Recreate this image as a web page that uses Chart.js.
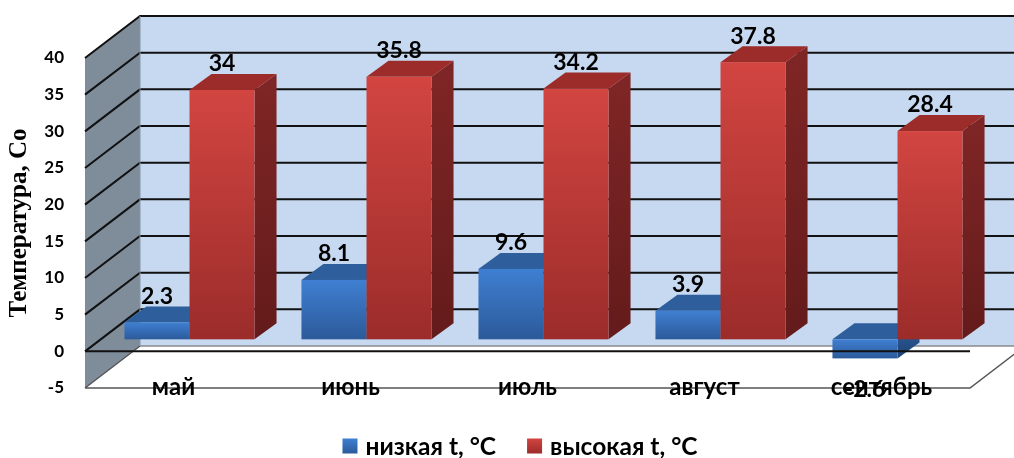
<!DOCTYPE html>
<html>
<head>
<meta charset="utf-8">
<script src="https://cdn.jsdelivr.net/npm/chart.js@4.4.0/dist/chart.umd.min.js"></script>
<style>
  html, body { margin: 0; padding: 0; background: #ffffff; }
  #wrap { width: 1014px; height: 458px; position: relative; }
</style>
</head>
<body>
<div id="wrap"><canvas id="c"></canvas></div>
<script>
// ---- data ----
const categories = ['май', 'июнь', 'июль', 'август', 'сентябрь'];
const lowTemps = [2.3, 8.1, 9.6, 3.9, -2.6];
const highTemps = [34, 35.8, 34.2, 37.8, 28.4];
const seriesNames = ['низкая t, °C', 'высокая t, °C'];
const axisMin = -5;
const axisMax = 40;
const axisStep = 5;
const axisTitle = 'Температура, Со';

// ---- 3D geometry (pixels) ----
const WALL = { dx: 55, dy: -42 };      // depth of the walls / floor
const BAR_FRONT = { dx: 16, dy: -12 }; // where the column front faces sit
const BAR_DEPTH = { dx: 22, dy: -16 }; // thickness of each column
const FONT = 'Lato';

const faces = [
  { front: ['#3f7fd2', '#2c5a9a'], top: '#2f5e9c', side: ['#27528c', '#1f4374'] },
  { front: ['#d24541', '#9b2c2a'], top: '#9c2c2a', side: ['#7e2525', '#641b1b'] }
];

function drawBox(ctx, L, R, T, B, f) {
  L += BAR_FRONT.dx; R += BAR_FRONT.dx;
  T += BAR_FRONT.dy; B += BAR_FRONT.dy;
  const dx = BAR_DEPTH.dx, dy = BAR_DEPTH.dy;
  // side face
  let g = ctx.createLinearGradient(0, T, 0, B);
  g.addColorStop(0, f.side[0]); g.addColorStop(1, f.side[1]);
  ctx.fillStyle = g;
  ctx.beginPath();
  ctx.moveTo(R, T); ctx.lineTo(R + dx, T + dy); ctx.lineTo(R + dx, B + dy); ctx.lineTo(R, B);
  ctx.closePath(); ctx.fill();
  // top face
  ctx.fillStyle = f.top;
  ctx.beginPath();
  ctx.moveTo(L, T); ctx.lineTo(L + dx, T + dy); ctx.lineTo(R + dx, T + dy); ctx.lineTo(R, T);
  ctx.closePath(); ctx.fill();
  // front face
  g = ctx.createLinearGradient(0, T, 0, B);
  g.addColorStop(0, f.front[0]); g.addColorStop(1, f.front[1]);
  ctx.fillStyle = g;
  ctx.fillRect(L, T, R - L, B - T);
}

const chart3d = {
  id: 'chart3d',
  beforeDatasetsDraw(chart) {
    const { ctx, chartArea: a, scales: { y } } = chart;
    const dx = WALL.dx, dy = WALL.dy;
    ctx.save();
    // back wall
    ctx.fillStyle = '#c6d9f1';
    ctx.fillRect(a.left + dx, a.top + dy, a.right - a.left, a.bottom - a.top);
    // side wall
    ctx.fillStyle = '#7f8d9b';
    ctx.beginPath();
    ctx.moveTo(a.left, a.top); ctx.lineTo(a.left + dx, a.top + dy);
    ctx.lineTo(a.left + dx, a.bottom + dy); ctx.lineTo(a.left, a.bottom);
    ctx.closePath(); ctx.fill();
    // floor
    ctx.fillStyle = '#ffffff';
    ctx.beginPath();
    ctx.moveTo(a.left, a.bottom); ctx.lineTo(a.left + dx, a.bottom + dy);
    ctx.lineTo(a.right + dx, a.bottom + dy); ctx.lineTo(a.right, a.bottom);
    ctx.closePath(); ctx.fill();
    // gridlines on the walls
    ctx.strokeStyle = '#111111';
    ctx.lineWidth = 2;
    y.ticks.forEach(t => {
      const py = y.getPixelForValue(t.value);
      if (t.value === axisMin) return;
      ctx.beginPath();
      ctx.moveTo(a.left, py); ctx.lineTo(a.left + dx, py + dy);
      ctx.lineTo(a.right + dx, py + dy);
      ctx.stroke();
    });
    // floor edges
    ctx.strokeStyle = '#8a8a8a';
    ctx.lineWidth = 1.5;
    ctx.beginPath();
    ctx.moveTo(a.left + dx, a.bottom + dy); ctx.lineTo(a.right + dx, a.bottom + dy);
    ctx.stroke();
    ctx.strokeStyle = '#555555';
    ctx.beginPath();
    ctx.moveTo(a.left, a.bottom); ctx.lineTo(a.left + dx, a.bottom + dy);
    ctx.moveTo(a.left, a.bottom); ctx.lineTo(a.right, a.bottom);
    ctx.lineTo(a.right + dx, a.bottom + dy);
    ctx.stroke();
    ctx.strokeStyle = '#8796a6';
    ctx.lineWidth = 1;
    ctx.beginPath();
    ctx.moveTo(a.left + dx, a.top + dy); ctx.lineTo(a.left + dx, a.bottom + dy);
    ctx.stroke();
    ctx.restore();
  },
  beforeDatasetDraw() {
    return false; // columns are drawn as boxes below
  },
  afterDatasetsDraw(chart) {
    const { ctx, chartArea: a, scales: { x, y } } = chart;
    const metas = chart.data.datasets.map((d, i) => chart.getDatasetMeta(i));
    ctx.save();
    categories.forEach((c, j) => {
      metas.forEach((m, i) => {
        const p = m.data[j].getProps(['x', 'y', 'base', 'width'], true);
        const L = p.x - p.width / 2, R = p.x + p.width / 2;
        const T = Math.min(p.y, p.base), B = Math.max(p.y, p.base);
        drawBox(ctx, L, R, T, B, faces[i]);
      });
    });
    // zero axis line along the front
    const y0 = y.getPixelForValue(0);
    ctx.strokeStyle = '#111111';
    ctx.lineWidth = 2;
    ctx.beginPath();
    ctx.moveTo(a.left, y0); ctx.lineTo(a.right, y0);
    ctx.stroke();
    // value labels
    ctx.fillStyle = '#000000';
    ctx.font = 'bold 23px ' + FONT;
    ctx.textAlign = 'center';
    ctx.textBaseline = 'middle';
    chart.data.datasets.forEach((d, i) => {
      d.data.forEach((v, j) => {
        const p = metas[i].data[j].getProps(['x', 'y', 'base'], true);
        const cx = p.x + BAR_FRONT.dx;
        const cy = v >= 0 ? p.y + BAR_FRONT.dy - 26 : p.y + BAR_FRONT.dy + 31;
        ctx.fillText(String(v), cx, cy);
      });
    });
    // category labels
    ctx.font = 'bold 24px ' + FONT;
    ctx.textBaseline = 'alphabetic';
    categories.forEach((c, j) => {
      ctx.fillText(c, x.getPixelForValue(j), a.bottom + 7);
    });
    // legend
    ctx.font = 'bold 24.5px ' + FONT;
    ctx.textAlign = 'left';
    ctx.textBaseline = 'middle';
    const box = 15, gap = 8, itemGap = 31, legendCenter = 520, ly = 446;
    const widths = seriesNames.map(s => ctx.measureText(s).width);
    const total = widths.reduce((s, w) => s + box + gap + w, 0) + itemGap * (seriesNames.length - 1);
    let lx = legendCenter - total / 2;
    seriesNames.forEach((s, i) => {
      const g = ctx.createLinearGradient(0, ly - box / 2, 0, ly + box / 2);
      g.addColorStop(0, faces[i].front[0]); g.addColorStop(1, faces[i].front[1]);
      ctx.fillStyle = g;
      ctx.fillRect(lx, ly - box / 2, box, box);
      ctx.fillStyle = '#000000';
      ctx.fillText(s, lx + box + gap, ly + 1);
      lx += box + gap + widths[i] + itemGap;
    });
    ctx.restore();
  }
};

new Chart(document.getElementById('c'), {
  type: 'bar',
  data: {
    labels: categories,
    datasets: [
      { label: seriesNames[0], data: lowTemps, backgroundColor: faces[0].front[0] },
      { label: seriesNames[1], data: highTemps, backgroundColor: faces[1].front[0] }
    ]
  },
  options: {
    responsive: true,
    maintainAspectRatio: false,
    animation: false,
    datasets: { bar: { categoryPercentage: 0.735, barPercentage: 1 } },
    layout: { padding: { top: 58, right: 44, bottom: 70, left: 0 } },
    plugins: { legend: { display: false }, tooltip: { enabled: false } },
    scales: {
      x: { display: false },
      y: {
        min: axisMin,
        max: axisMax,
        afterFit(scale) { scale.width = 85; },
        grid: { display: false, drawTicks: false },
        border: { display: false },
        ticks: {
          stepSize: axisStep,
          padding: 21,
          color: '#000000',
          font: { family: FONT, weight: 'bold', size: 17 }
        },
        title: {
          display: true,
          text: axisTitle,
          color: '#000000',
          padding: { top: 5, bottom: 0 },
          font: { family: 'Liberation Serif', weight: 'bold', size: 25 }
        }
      }
    }
  },
  plugins: [chart3d]
});
</script>
</body>
</html>
